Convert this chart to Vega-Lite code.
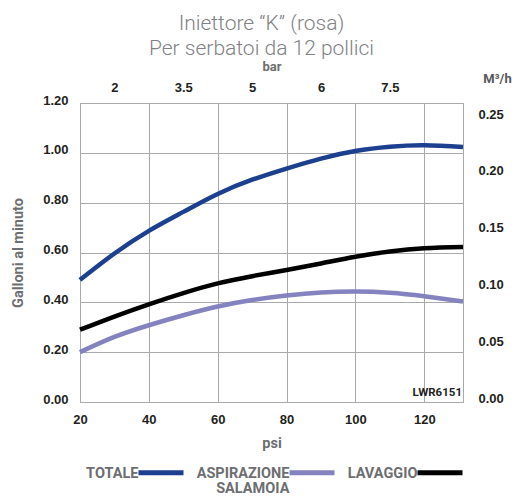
{
  "$schema": "https://vega.github.io/schema/vega-lite/v6.json",
  "width": 383,
  "height": 299,
  "autosize": {"type": "none"},
  "padding": {"left": 80, "top": 103, "right": 52, "bottom": 97},
  "title": {
    "text": ["Iniettore “K” (rosa)", "Per serbatoi da 12 pollici"],
    "font": "Roboto",
    "fontWeight": 300,
    "fontSize": 21,
    "color": "#808285",
    "lineHeight": 25,
    "dx": -10,
    "offset": 1,
    "anchor": "middle"
  },
  "config": {
    "view": {"stroke": "#a7a9ac", "strokeWidth": 1},
    "axis": {
      "labelFont": "Liberation Sans",
      "labelFontWeight": "bold",
      "labelFontSize": 13,
      "labelColor": "#231f20",
      "titleFont": "Roboto",
      "titleFontWeight": "bold",
      "titleFontSize": 14.5,
      "titleColor": "#6d6e71",
      "gridColor": "#a7a9ac",
      "gridWidth": 1,
      "gridOpacity": 1,
      "ticks": false,
      "domain": false,
      "labelFlush": false,
      "labelOverlap": false
    }
  },
  "layer": [
    {
      "data": {
        "values": [
          {"psi": 20, "gpm": 0.49, "series": "TOTALE"},
          {"psi": 30, "gpm": 0.596, "series": "TOTALE"},
          {"psi": 40, "gpm": 0.687, "series": "TOTALE"},
          {"psi": 50, "gpm": 0.763, "series": "TOTALE"},
          {"psi": 60, "gpm": 0.835, "series": "TOTALE"},
          {"psi": 70, "gpm": 0.892, "series": "TOTALE"},
          {"psi": 80, "gpm": 0.937, "series": "TOTALE"},
          {"psi": 90, "gpm": 0.977, "series": "TOTALE"},
          {"psi": 100, "gpm": 1.007, "series": "TOTALE"},
          {"psi": 110, "gpm": 1.024, "series": "TOTALE"},
          {"psi": 120, "gpm": 1.03, "series": "TOTALE"},
          {"psi": 131.25, "gpm": 1.023, "series": "TOTALE"},
          {"psi": 20, "gpm": 0.2, "series": "ASPIRAZIONE SALAMOIA"},
          {"psi": 30, "gpm": 0.261, "series": "ASPIRAZIONE SALAMOIA"},
          {"psi": 40, "gpm": 0.308, "series": "ASPIRAZIONE SALAMOIA"},
          {"psi": 50, "gpm": 0.348, "series": "ASPIRAZIONE SALAMOIA"},
          {"psi": 60, "gpm": 0.383, "series": "ASPIRAZIONE SALAMOIA"},
          {"psi": 70, "gpm": 0.409, "series": "ASPIRAZIONE SALAMOIA"},
          {"psi": 80, "gpm": 0.427, "series": "ASPIRAZIONE SALAMOIA"},
          {"psi": 90, "gpm": 0.439, "series": "ASPIRAZIONE SALAMOIA"},
          {"psi": 100, "gpm": 0.443, "series": "ASPIRAZIONE SALAMOIA"},
          {"psi": 110, "gpm": 0.438, "series": "ASPIRAZIONE SALAMOIA"},
          {"psi": 120, "gpm": 0.424, "series": "ASPIRAZIONE SALAMOIA"},
          {"psi": 131.25, "gpm": 0.403, "series": "ASPIRAZIONE SALAMOIA"},
          {"psi": 20, "gpm": 0.29, "series": "LAVAGGIO"},
          {"psi": 30, "gpm": 0.343, "series": "LAVAGGIO"},
          {"psi": 40, "gpm": 0.392, "series": "LAVAGGIO"},
          {"psi": 50, "gpm": 0.437, "series": "LAVAGGIO"},
          {"psi": 60, "gpm": 0.476, "series": "LAVAGGIO"},
          {"psi": 70, "gpm": 0.505, "series": "LAVAGGIO"},
          {"psi": 80, "gpm": 0.53, "series": "LAVAGGIO"},
          {"psi": 90, "gpm": 0.556, "series": "LAVAGGIO"},
          {"psi": 100, "gpm": 0.583, "series": "LAVAGGIO"},
          {"psi": 110, "gpm": 0.604, "series": "LAVAGGIO"},
          {"psi": 120, "gpm": 0.617, "series": "LAVAGGIO"},
          {"psi": 131.25, "gpm": 0.622, "series": "LAVAGGIO"}
        ]
      },
      "mark": {"type": "line", "interpolate": "natural", "strokeWidth": 4.5, "strokeCap": "butt"},
      "encoding": {
        "x": {
          "field": "psi",
          "type": "quantitative",
          "scale": {"domain": [20, 131.25], "nice": false, "zero": false},
          "axis": {
            "orient": "bottom",
            "values": [20, 40, 60, 80, 100, 120],
            "title": "psi",
            "grid": true,
            "labelPadding": 11,
            "titlePadding": 10
          }
        },
        "y": {
          "field": "gpm",
          "type": "quantitative",
          "scale": {"domain": [0, 1.2], "nice": false},
          "axis": {
            "orient": "left",
            "values": [0, 0.2, 0.4, 0.6, 0.8, 1, 1.2],
            "format": ".2f",
            "title": "Galloni al minuto",
            "grid": true,
            "labelPadding": 12,
            "labelOffset": -3,
            "titlePadding": 17
          }
        },
        "color": {
          "field": "series",
          "type": "nominal",
          "scale": {
            "domain": ["TOTALE", "ASPIRAZIONE SALAMOIA", "LAVAGGIO"],
            "range": ["#1d3f8f", "#8483bf", "#000000"]
          },
          "legend": {
            "orient": "none",
            "legendX": 50,
            "legendY": 361,
            "direction": "horizontal",
            "title": null,
            "symbolType": "M0,0H8",
            "symbolSize": 126.5625,
            "symbolStrokeWidth": 5,
            "labelAlign": "right",
            "labelOffset": -8.6,
            "labelBaseline": "alphabetic",
            "labelFont": "Roboto",
            "labelFontWeight": "bold",
            "labelFontSize": 14.5,
            "labelColor": "#6d6e71",
            "labelLimit": 0,
            "labelExpr": "datum.label == 'ASPIRAZIONE SALAMOIA' ? ['ASPIRAZIONE', 'SALAMOIA'] : [datum.label, '']",
            "columnPadding": 2,
            "encode": {
              "labels": {"update": {"dy": {"value": 5.2}, "lineHeight": {"value": 15.5}}}
            }
          }
        }
      }
    },
    {
      "data": {"values": [{"psi": 131.25, "m3h": 0, "code": "LWR6151"}]},
      "mark": {
        "type": "text",
        "align": "right",
        "baseline": "bottom",
        "dx": -1,
        "dy": -4,
        "font": "Roboto",
        "fontWeight": "bold",
        "fontSize": 11.5,
        "color": "#231f20"
      },
      "encoding": {
        "x": {
          "field": "psi",
          "type": "quantitative",
          "scale": {"domain": [20, 131.25], "nice": false, "zero": false},
          "axis": {
            "orient": "top",
            "values": [30, 50, 70, 90, 110],
            "labelExpr": "datum.value == 30 ? '2' : datum.value == 50 ? '3.5' : datum.value == 70 ? '5' : datum.value == 90 ? '6' : '7.5'",
            "title": "bar",
            "titleFontSize": 13,
            "grid": false,
            "labelPadding": 9,
            "titlePadding": 8
          }
        },
        "y": {
          "field": "m3h",
          "type": "quantitative",
          "scale": {"domain": [0, 0.2634], "nice": false},
          "axis": {
            "orient": "right",
            "values": [0, 0.05, 0.1, 0.15, 0.2, 0.25],
            "format": ".2f",
            "title": "M³/h",
            "titleFontSize": 13,
            "titleAngle": 0,
            "titleAlign": "center",
            "titleBaseline": "middle",
            "titleX": 34,
            "titleY": -25,
            "titleColor": "#58595b",
            "grid": false,
            "labelPadding": 15,
            "labelOffset": -4
          }
        },
        "text": {"field": "code"}
      }
    }
  ],
  "resolve": {"scale": {"x": "independent", "y": "independent"}}
}
